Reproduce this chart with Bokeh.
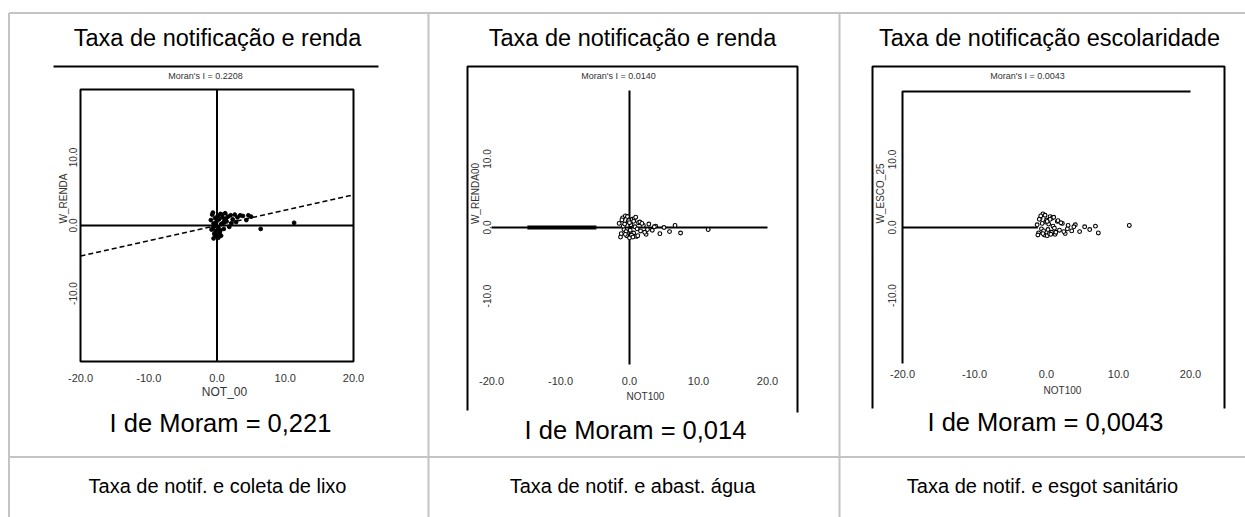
from bokeh.plotting import figure
from bokeh.models import Range1d
from bokeh.core.properties import value
from bokeh.embed import file_html
from bokeh.resources import INLINE
import math

# ---------------- data ----------------
cell_titles = ["Taxa de notificação e renda", "Taxa de notificação e renda",
               "Taxa de notificação escolaridade"]
bottom_titles = ["Taxa de notif. e coleta de lixo", "Taxa de notif. e abast. água",
                 "Taxa de notif. e esgot sanitário"]
captions = ["I de Moram = 0,221", "I de Moram = 0,014", "I de Moram = 0,0043"]
inner_titles = ["Moran's I = 0.2208", "Moran's I = 0.0140", "Moran's I = 0.0043"]
x_labels = ["NOT_00", "NOT100", "NOT100"]
y_labels = ["W_RENDA", "W_RENDA00", "W_ESCO_25"]
x_ticks = [-20, -10, 0, 10, 20]
x_tick_labels = ["-20.0", "-10.0", "0.0", "10.0", "20.0"]
y_ticks = [-10, 0, 10]
y_tick_labels = ["-10.0", "0.0", "10.0"]

# plot 1: notification rate vs income (Moran I 0.2208)
p1_x = [-0.9, -0.7, -0.6, -0.5, -0.4, -0.3, -0.2, -0.1, 0.0, 0.1, 0.2, 0.3, 0.4, 0.5, 0.6,
        0.8, 1.0, 1.2, 1.4, 1.6, 1.8, 2.0, 2.3, 2.6, 3.0, 3.4, 3.8, 4.3, 5.0, 6.4, 11.3,
        -0.8, -0.5, -0.3, 0.0, 0.2, 0.5, 0.9, 1.3, -0.6, -0.2, 0.3, 0.7, 1.1, 2.1, 2.8,
        -0.4, 0.1, 0.6, 4.6]
p1_y = [0.8, 1.6, -0.4, 0.3, -1.2, 1.1, -0.8, 0.5, -1.6, 1.4, -0.3, 0.9, -1.0, 1.7, 0.2,
        1.2, -0.5, 1.8, 0.6, 1.3, -0.2, 1.5, 0.9, 1.6, 1.2, 1.5, 1.4, 0.8, 1.3, -0.5, 0.4,
        -0.6, -1.9, -1.4, 0.9, -1.8, -0.7, 0.4, 1.0, 1.9, 0.0, -1.3, 1.6, 0.7, 0.3, 0.5,
        -0.1, -0.9, -1.5, 1.5]
reg1_x = [-20, 20]
reg1_y = [-4.5, 4.5]

# plot 2: notification rate vs income (Moran I 0.0140)
p2_x = [-1.5, -1.2, -1.0, -0.8, -0.6, -0.4, -0.2, 0.0, 0.2, 0.4, 0.6, 0.8, 1.0, 1.3, 1.6,
        2.0, 2.4, 2.8, 3.3, 3.8, 4.4, 5.0, 5.8, 6.6, 7.4, 11.4, -1.3, -0.9, -0.5, -0.1,
        0.3, 0.7, 1.1, 1.5, 2.2, -1.1, -0.7, -0.3, 0.1, 0.5, 0.9, 1.8, 2.6, 3.6, -0.6,
        0.0, 0.6, 1.2]
p2_y = [0.6, -0.9, 1.4, -0.3, 1.7, -1.2, 0.9, -1.5, 0.4, 1.2, -0.8, 0.1, -1.3, 0.7, -0.5,
        0.3, -1.0, 0.5, -0.4, 0.2, -0.9, 0.0, -0.6, 0.3, -0.8, -0.3, -1.4, 0.2, -0.6, 1.0,
        -1.1, 1.3, -0.2, 0.8, -0.7, 1.1, 0.5, 1.6, -0.4, -1.4, 1.5, 0.6, -0.3, 0.1, -1.0,
        0.7, 0.9, -1.2]
p2_bar_x = [-14.8, -4.8]
p2_bar_y = [0.0, 0.0]

# plot 3: notification rate vs schooling (Moran I 0.0043)
p3_x = [-1.3, -1.1, -0.9, -0.7, -0.5, -0.3, -0.1, 0.1, 0.3, 0.5, 0.7, 0.9, 1.2, 1.5, 1.8,
        2.2, 2.6, 3.0, 3.5, 4.0, 4.6, 5.3, 6.0, 6.8, 7.2, 11.5, -1.2, -0.8, -0.4, 0.0,
        0.4, 0.8, 1.1, 1.6, 2.4, -1.0, -0.6, -0.2, 0.2, 0.6, 1.0, 2.0, 2.9, 3.8, -0.5,
        0.1, 0.5, 1.3]
p3_y = [0.4, -0.8, 1.3, -0.2, 2.0, -1.1, 0.8, -1.2, 0.5, 1.6, -0.7, 0.2, -1.0, 0.9, -0.4,
        0.6, -0.9, 0.3, -0.5, 0.4, -0.6, 0.1, -0.3, 0.2, -0.8, 0.3, -1.1, 1.7, -0.5, 1.1,
        -0.9, 1.4, -0.1, 1.0, -0.6, 1.2, 0.6, 1.8, -0.3, -1.0, 1.5, 0.7, -0.2, 0.1, -0.9,
        0.9, 1.2, -0.7]

# ---------------- layout (page pixels) ----------------
W, H = 1245, 517
PX0, PX1 = 0, W
PY_TOP, PY_BOT = 0, H
GRID = "#c4c4c4"
FONT = value("Liberation Sans")

p = figure(width=W, height=H, x_range=Range1d(PX0, PX1), y_range=Range1d(PY_BOT, PY_TOP),
           output_backend="svg", toolbar_location=None, x_axis_type=None, y_axis_type=None,
           min_border=0, min_border_left=0, min_border_right=0, min_border_top=0,
           min_border_bottom=0)
p.outline_line_color = None
p.background_fill_color = "white"
p.border_fill_color = "white"

# table grid
tbl_left, tbl_top, tbl_right, tbl_bottom = 8.5, 12.5, 1245, 517
col_div = [428, 839]
row_div = 456.5
p.segment(x0=[tbl_left, tbl_left], y0=[tbl_top, row_div], x1=[tbl_right, tbl_right],
          y1=[tbl_top, row_div], line_color=GRID, line_width=2)
p.segment(x0=[tbl_left] + col_div, y0=[tbl_top] * 3, x1=[tbl_left] + col_div,
          y1=[tbl_bottom] * 3, line_color=GRID, line_width=2)

# cell texts
title_x = [217, 632, 1049]
p.text(x=title_x, y=[37] * 3, text=cell_titles, text_align="center", text_baseline="middle",
       text_font=FONT, text_font_size="23.5px", text_color="black")
bottom_x = [217, 632, 1042]
p.text(x=bottom_x, y=[485] * 3, text=bottom_titles, text_align="center",
       text_baseline="middle", text_font=FONT, text_font_size="20px", text_color="black")
cap_x = [220, 635, 1045]
cap_y = [422, 429, 421]
p.text(x=cap_x, y=cap_y, text=captions, text_align="center", text_baseline="middle",
       text_font=FONT, text_font_size="25.5px", text_color="black")

# embedded image frames
p.segment(x0=[53], y0=[66], x1=[378], y1=[66], line_color="black", line_width=2)
p.multi_line(xs=[[467, 467, 797, 797], [872, 872, 1224, 1224]],
             ys=[[410, 66, 66, 412], [408, 66, 66, 408]], line_color="black", line_width=2)

# scatter panel geometry: (px of x=-20, px of x=20, px of y=0, px of y=20)
panels = [
    dict(xl=80, xr=353, y0=225, y20=89, title=(205, 75), xtick_y=377, ytick_x=76,
         xlab=(224, 391), ylab=(63, 198), xlab_size="12px"),
    dict(xl=491, xr=767, y0=227, y20=90, title=(618, 75), xtick_y=380, ytick_x=490,
         xlab=(645, 396), ylab=(475, 193), xlab_size="10px"),
    dict(xl=902, xr=1190, y0=227, y20=91, title=(1027, 75), xtick_y=373, ytick_x=895,
         xlab=(1062, 390), ylab=(880, 193), xlab_size="10px"),
]
for i, g in enumerate(panels):
    kx = 40.0 / (g["xr"] - g["xl"])
    xs = -20 - (g["xl"] - PX0) * kx
    ky = 20.0 / (g["y0"] - g["y20"])
    p.extra_x_ranges[f"x{i}"] = Range1d(xs, xs + W * kx)
    p.extra_y_ranges[f"y{i}"] = Range1d(-(PY_BOT - g["y0"]) * ky, (g["y0"] - PY_TOP) * ky)

SMALL = "#333333"
for i, g in enumerate(panels):
    rx, ry = f"x{i}", f"y{i}"
    p.text(x=[g["title"][0]], y=[g["title"][1]], text=[inner_titles[i]], text_align="center",
           text_baseline="middle", text_font=FONT, text_font_size="9px", text_color=SMALL)
    p.text(x=x_ticks, y=[g["xtick_y"]] * len(x_ticks), text=x_tick_labels, x_range_name=rx,
           text_align="center", text_baseline="middle", text_font=FONT,
           text_font_size="11px", text_color=SMALL)
    p.text(x=[g["ytick_x"]] * len(y_ticks), y=y_ticks, text=y_tick_labels, y_range_name=ry,
           angle=math.pi / 2, text_align="center", text_baseline="bottom", text_font=FONT,
           text_font_size="10px", text_color=SMALL)
    p.text(x=[g["xlab"][0]], y=[g["xlab"][1]], text=[x_labels[i]], text_align="center",
           text_baseline="middle", text_font=FONT, text_font_size=g["xlab_size"],
           text_color=SMALL)
    p.text(x=[g["ylab"][0]], y=[g["ylab"][1]], text=[y_labels[i]], angle=math.pi / 2,
           text_align="center", text_baseline="middle", text_font=FONT,
           text_font_size="10px", text_color=SMALL)

# panel 1: full box, axes, regression line
p.quad(left=[-20], right=[20], bottom=[-20], top=[20], fill_color=None, line_color="black",
       line_width=2, x_range_name="x0", y_range_name="y0")
p.segment(x0=[0, -20], y0=[-20, 0], x1=[0, 20], y1=[20, 0], line_color="black",
          line_width=2, x_range_name="x0", y_range_name="y0")
p.line(reg1_x, reg1_y, line_color="black", line_width=1.5, line_dash="5 3",
       x_range_name="x0", y_range_name="y0")
p.scatter(p1_x, p1_y, marker="circle", size=3.8, fill_color="black", line_color="black",
          line_width=1, x_range_name="x0", y_range_name="y0")

# panel 2: cross axes, bar of coincident points
p.segment(x0=[0, -20], y0=[-20, 0], x1=[0, 20], y1=[20, 0], line_color="black",
          line_width=2, x_range_name="x1", y_range_name="y1")
p.line(p2_bar_x, p2_bar_y, line_color="black", line_width=4, x_range_name="x1",
       y_range_name="y1")
p.scatter(p2_x, p2_y, marker="circle", size=3.8, fill_color="white", line_color="black",
          line_width=1.1, x_range_name="x1", y_range_name="y1")

# panel 3: top + left edges, half horizontal axis
p.line([-20, -20, 20], [-20, 20, 20], line_color="black", line_width=2,
       x_range_name="x2", y_range_name="y2")
p.segment(x0=[-20], y0=[0], x1=[-1.2], y1=[0], line_color="black", line_width=2,
          x_range_name="x2", y_range_name="y2")
p.scatter(p3_x, p3_y, marker="circle", size=3.8, fill_color="white", line_color="black",
          line_width=1.1, x_range_name="x2", y_range_name="y2")

open("out.html", "w").write(file_html(p, INLINE))
